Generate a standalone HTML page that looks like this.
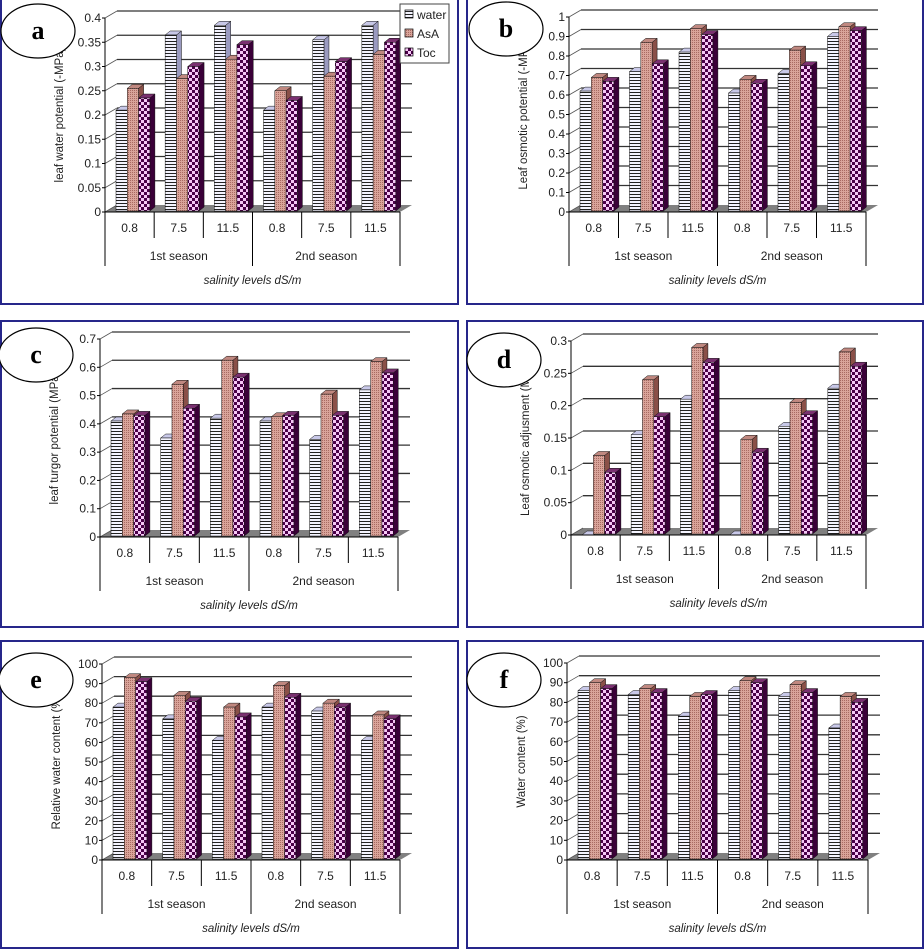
<!DOCTYPE html>
<html><head><meta charset="utf-8"><style>
body{margin:0;background:#fff;}
svg{display:block;font-family:"Liberation Sans",sans-serif;}
</style></head><body>
<svg id="s" width="924" height="950" viewBox="0 0 924 950">
<defs>
<pattern id="pw" patternUnits="userSpaceOnUse" width="4" height="3"><rect width="4" height="3" fill="#f4f4ff"/><rect y="2" width="4" height="1" fill="#222"/></pattern>
<pattern id="pa" patternUnits="userSpaceOnUse" width="2" height="2"><rect width="2" height="2" fill="#d9a49a"/><rect width="1" height="1" fill="#a86a62"/></pattern>
<pattern id="pt" patternUnits="userSpaceOnUse" width="6" height="6"><rect width="6" height="6" fill="#f6c8f6"/><rect width="3" height="3" fill="#4a0048"/><rect x="3" y="3" width="3" height="3" fill="#4a0048"/></pattern>
</defs>
</svg>
<script>
const categories = ["0.8","7.5","11.5","0.8","7.5","11.5"];
const seasons = ["1st season","2nd season"];
const seriesNames = ["water","AsA","Toc"];
const waterA=[0.21,0.365,0.385,0.21,0.355,0.385];
const asaA=[0.255,0.275,0.315,0.25,0.28,0.325];
const tocA=[0.235,0.30,0.345,0.23,0.31,0.35];
const ticksA=["0","0.05","0.1","0.15","0.2","0.25","0.3","0.35","0.4"];
const waterB=[0.62,0.72,0.82,0.61,0.71,0.90];
const asaB=[0.69,0.87,0.94,0.68,0.83,0.95];
const tocB=[0.67,0.76,0.91,0.66,0.75,0.93];
const ticksB=["0","0.1","0.2","0.3","0.4","0.5","0.6","0.7","0.8","0.9","1"];
const waterC=[0.41,0.35,0.42,0.41,0.345,0.52];
const asaC=[0.435,0.54,0.625,0.425,0.505,0.62];
const tocC=[0.43,0.455,0.565,0.43,0.43,0.58];
const ticksC=["0","0.1","0.2","0.3","0.4","0.5","0.6","0.7"];
const waterD=[0,0.155,0.21,0,0.168,0.227];
const asaD=[0.123,0.24,0.29,0.148,0.205,0.283];
const tocD=[0.097,0.183,0.267,0.128,0.186,0.261];
const ticksD=["0","0.05","0.1","0.15","0.2","0.25","0.3"];
const waterE=[78,72,61,78,76,61];
const asaE=[93,84,78,89,80,74];
const tocE=[91,81,73,83,78,72];
const ticksE=["0","10","20","30","40","50","60","70","80","90","100"];
const waterF=[86,84,73,86,83,67];
const asaF=[90,87,83,91,89,83];
const tocF=[87,85,84,90,85,80];
const ticksF=["0","10","20","30","40","50","60","70","80","90","100"];

const svg=document.getElementById('s');
const NS='http://www.w3.org/2000/svg';
function mk(tag,at,parent,txt){const e=document.createElementNS(NS,tag);for(const k in at)e.setAttribute(k,at[k]);if(txt!==undefined)e.textContent=txt;(parent||svg).appendChild(e);return e;}

function panel(p){
  const g=mk('g',{});
  
  
  const r=mk('rect',{x:p.bx,y:p.by,width:p.bw,height:p.bh,fill:'#fff',stroke:'#26268a','stroke-width':2},g);
  
  
  const ticks=p.ticks, max=parseFloat(ticks[ticks.length-1]);
  const ys=v=>p.y0-(v/max)*(p.y0-p.yTop);
  const dx=12, dy=-7;
  mk('polygon',{points:`${p.ax},${p.y0} ${p.right},${p.y0} ${p.right+dx},${p.y0+dy} ${p.ax+dx},${p.y0+dy}`,fill:'#808080'},g);
  for(let i=0;i<ticks.length;i++){
    const v=parseFloat(ticks[i]),y=ys(v);
    if(i>0){const gl=mk('line',{x1:p.ax+dx,y1:y+dy,x2:p.right+dx,y2:y+dy,stroke:'#333','stroke-width':1.3},g);
      
      }
    mk('line',{x1:p.ax,y1:y,x2:p.ax+dx,y2:y+dy,stroke:'#555','stroke-width':0.8},g);
    mk('line',{x1:p.ax-3,y1:y,x2:p.ax,y2:y,stroke:'#000'},g);
    const t=mk('text',{x:p.ax-4,y:y+4,'text-anchor':'end','font-size':12,fill:'#222'},g,ticks[i]);
    
    
  }
  mk('line',{x1:p.ax,y1:p.yTop,x2:p.ax,y2:p.y0,stroke:'#000'},g);
  const gw=(p.right-p.ax)/6, bw=11.3, ddx=5, ddy=-4;
  const series=[p.water,p.asa,p.toc], fills=['url(#pw)','url(#pa)','url(#pt)'], sides=['#9a9ac0','#8a5048','#3a0038'], tops=['#c8c8e8','#c08880','#7a3070'];
  for(let c=0;c<6;c++){
    for(let s=0;s<3;s++){
      const v=series[s][c], x=p.ax+c*gw+11+s*bw, yt=ys(v), yb=p.y0-1;
      const bg=mk('g',{},g);
      
      
      mk('polygon',{points:`${x+bw},${yb} ${x+bw+ddx},${yb+ddy} ${x+bw+ddx},${yt+ddy} ${x+bw},${yt}`,fill:sides[s],stroke:'#111','stroke-width':0.5},bg);
      mk('polygon',{points:`${x},${yt} ${x+ddx},${yt+ddy} ${x+bw+ddx},${yt+ddy} ${x+bw},${yt}`,fill:tops[s],stroke:'#111','stroke-width':0.5},bg);
      mk('rect',{x:x,y:yt,width:bw,height:Math.max(0,yb-yt),fill:fills[s],stroke:'#111','stroke-width':0.5},bg);
    }
  }
  mk('line',{x1:p.ax,y1:p.y0,x2:p.right,y2:p.y0,stroke:'#000'},g);
  for(let c=0;c<=6;c++){
    const x=p.ax+c*gw, long=(c%3===0);
    mk('line',{x1:x,y1:p.y0,x2:x,y2:p.y0+(long?54:26),stroke:'#000'},g);
    if(c<6){const t=mk('text',{x:x+gw/2,y:p.y0+20,'text-anchor':'middle','font-size':12,fill:'#222'},g,categories[c]);
      
      }
  }
  for(let s=0;s<2;s++){
    const t=mk('text',{x:p.ax+gw*1.5+s*gw*3,y:p.y0+48,'text-anchor':'middle','font-size':12,fill:'#222'},g,seasons[s]);
    
    
  }
  const xt=mk('text',{x:(p.ax+p.right)/2,y:p.y0+72,'text-anchor':'middle','font-size':11.5,'font-style':'italic',fill:'#222'},g,'salinity levels dS/m');
  
  
  const cy=(p.y0+p.yTop)/2;
  const yt=mk('text',{x:0,y:0,transform:`translate(${p.ax-42},${cy}) rotate(-90)`,'text-anchor':'middle','font-size':11.5,fill:'#222'},g,p.ytitle);
  
  
  const el=mk('ellipse',{cx:p.ex,cy:p.ey,rx:37,ry:27,fill:'#fff',stroke:'#000','stroke-width':1.2},g);
  
  
  const lt=mk('text',{x:p.ex,y:p.ey+8,'text-anchor':'middle','font-size':26,'font-weight':'bold','font-family':'Liberation Serif,serif'},g,p.id);
  
  
}

panel({id:'a',bx:1,by:-2,bw:457,bh:306,ax:105,y0:212,yTop:18,right:400,ticks:ticksA,water:waterA,asa:asaA,toc:tocA,ytitle:'leaf water potential (-MPa)',ex:38,ey:31});
panel({id:'b',bx:467,by:-2,bw:456,bh:306,ax:569,y0:212,yTop:17,right:866,ticks:ticksB,water:waterB,asa:asaB,toc:tocB,ytitle:'Leaf osmotic potential (-MPa)',ex:506,ey:29});
panel({id:'c',bx:1,by:321,bw:457,bh:306,ax:100,y0:537,yTop:339,right:398,ticks:ticksC,water:waterC,asa:asaC,toc:tocC,ytitle:'leaf turgor potential (MPa)',ex:36,ey:355});
panel({id:'d',bx:467,by:321,bw:456,bh:306,ax:571,y0:535,yTop:341,right:866,ticks:ticksD,water:waterD,asa:asaD,toc:tocD,ytitle:'Leaf osmotic adjusment (MPa)',ex:504,ey:360});
panel({id:'e',bx:1,by:641,bw:457,bh:307,ax:102,y0:860,yTop:664,right:400,ticks:ticksE,water:waterE,asa:asaE,toc:tocE,ytitle:'Relative water content (%)',ex:36,ey:680});
panel({id:'f',bx:467,by:641,bw:456,bh:307,ax:567,y0:860,yTop:663,right:868,ticks:ticksF,water:waterF,asa:asaF,toc:tocF,ytitle:'Water content (%)',ex:504,ey:680});

const lg=mk('g',{});


mk('rect',{x:400,y:4,width:49,height:59,fill:'#fff',stroke:'#444'},lg);
const lf=['url(#pw)','url(#pa)','url(#pt)'];
for(let i=0;i<3;i++){
  const e=mk('g',{},lg);
  
  
  mk('rect',{x:405,y:10+i*19,width:8,height:8,fill:lf[i],stroke:'#000','stroke-width':0.7},e);
  mk('text',{x:417,y:19+i*19,'font-size':12,fill:'#222'},e,seriesNames[i]);
}
</script>
</body></html>
